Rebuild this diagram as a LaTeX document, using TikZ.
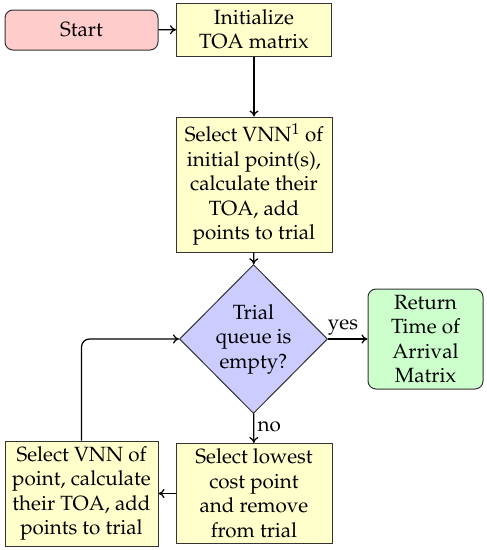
\documentclass[tikz,border=0pt]{standalone}
\usepackage[T1]{fontenc}
\usepackage{mathpazo}
\usetikzlibrary{shapes.geometric,arrows.meta}
\definecolor{pinkfill}{HTML}{FFCCCC}
\definecolor{yellowfill}{HTML}{FFFFCC}
\definecolor{bluefill}{HTML}{CCCCFF}
\definecolor{greenfill}{HTML}{CCFFCC}
\definecolor{edge}{HTML}{333333}
\tikzset{
  base/.style={draw=edge, line width=1pt, align=center, inner sep=2pt,
    font=\fontsize{20.6}{24.5}\selectfont},
  startbox/.style={base, fill=pinkfill, rounded corners=8pt},
  procbox/.style={base, fill=yellowfill},
  endbox/.style={base, fill=greenfill, rounded corners=8pt},
  decision/.style={base, diamond, fill=bluefill, inner sep=0pt},
  conn/.style={-{To[length=6pt,width=9pt]}, line width=1.25pt, draw=black},
  lbl/.style={font=\fontsize{20.6}{24.5}\selectfont},
}
\begin{document}
\begin{tikzpicture}[x=1pt,y=-1pt]
\useasboundingbox (0,0) rectangle (487,550);
\node[startbox, minimum width=153pt, minimum height=40pt] (start) at (81.5,30) {Start};
\node[procbox, minimum width=155pt, minimum height=53pt] (init) at (254,29.5) {Initialize\\TOA matrix};
\node[procbox, minimum width=156pt, minimum height=135pt] (sel1) at (254,184.5)
  {Select VNN$^1$ of\\initial point(s),\\calculate their\\TOA, add\\points to trial};
\node[decision, minimum width=148pt, minimum height=149pt] (dec) at (253.5,339) {};
\node[lbl, align=center] (dectext) at (dec.center) {Trial\\queue is\\empty?};
\node[endbox, minimum width=115pt, minimum height=100pt] (ret) at (425.5,339)
  {Return\\Time of\\Arrival\\Matrix};
\node[procbox, minimum width=156pt, minimum height=100pt] (low) at (254,493.5)
  {Select lowest\\cost point\\and remove\\from trial};
\node[procbox, minimum width=153pt, minimum height=105pt] (left) at (81.5,493.5)
  {Select VNN of\\point, calculate\\their TOA, add\\points to trial};
\draw[conn] (start) -- (init);
\draw[conn] (init) -- (sel1);
\draw[conn] (sel1) -- (dec);
\draw[conn] (dec) -- node[lbl, above, pos=0.38] (yes) {yes} (ret);
\draw[conn] (dec) -- node[lbl, right, pos=0.45] (no) {no} (low);
\draw[conn] (low) -- (left);
\draw[conn, rounded corners=8pt] (left.north) |- (dec.west);
\end{tikzpicture}
\end{document}
